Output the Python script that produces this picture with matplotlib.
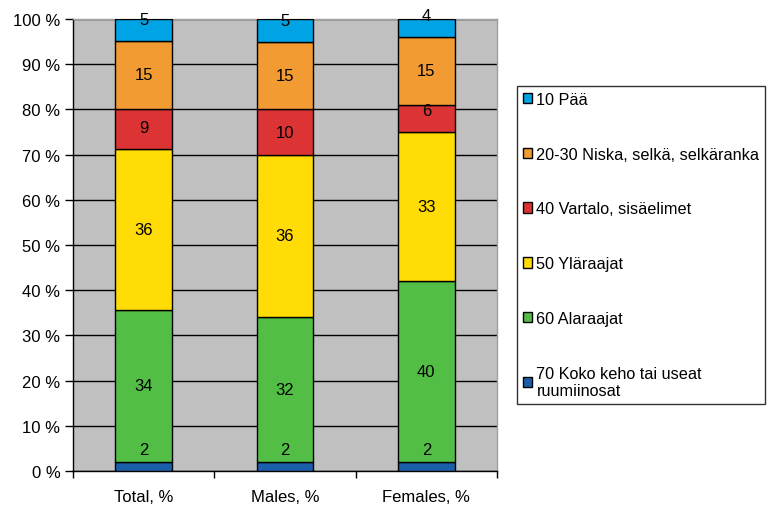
import matplotlib
matplotlib.use("Agg")
import matplotlib.pyplot as plt
import numpy as np
from matplotlib.ticker import FuncFormatter, MultipleLocator

plt.rcParams['font.family'] = ['Liberation Sans', 'DejaVu Sans']

categories = ["Total, %", "Males, %", "Females, %"]

# series listed bottom-to-top of each stack
series_names = [
    "70 Koko keho tai useat\nruumiinosat",
    "60 Alaraajat",
    "50 Yläraajat",
    "40 Vartalo, sisäelimet",
    "20-30 Niska, selkä, selkäranka",
    "10 Pää",
]
koko_keho = [2, 2, 2]
alaraajat = [34, 32, 40]
ylaraajat = [36, 36, 33]
vartalo = [9, 10, 6]
niska_selka = [15, 15, 15]
paa = [5, 5, 4]

series_values = [koko_keho, alaraajat, ylaraajat, vartalo, niska_selka, paa]
series_colors = ["#1B5FAA", "#52BE46", "#FFDC05", "#DC3434", "#F29B33", "#00A3E3"]

FS = 12
W, H, DPI = 769, 506, 100
fig = plt.figure(figsize=(W / DPI, H / DPI), dpi=DPI)
ax = fig.add_axes([73 / W, 1 - 472 / H, (497 - 73) / W, (472 - 20) / H])
ax.set_facecolor("#C0C0C0")

vals = np.array(series_values, dtype=float)
totals = vals.sum(axis=0)
shares = vals / totals * 100.0

x = np.arange(len(categories))
bar_w = 0.4
bottom = np.zeros(len(categories))
handles = []
px_per_unit = (472 - 20) / 100.0
for name, raw, share, col in zip(series_names, vals, shares, series_colors):
    b = ax.bar(x, share, bar_w, bottom=bottom, color=col, edgecolor="black",
               linewidth=1.0, label=name, zorder=3)
    handles.append(b)
    for xi, v, s, b0 in zip(x, raw, share, bottom):
        h_px = s * px_per_unit
        # thin segments get their label nudged upward
        lift_px = max(0.0, 21.5 - 0.5 * h_px)
        ax.annotate(f"{v:g}", (xi, b0 + s / 2), xytext=(0, lift_px * 72 / DPI),
                    textcoords="offset points", ha="center", va="center",
                    fontsize=FS, color="black", zorder=5)
    bottom = bottom + share

ax.set_xlim(-0.5, len(categories) - 0.5)
ax.set_ylim(0, 100)
ax.yaxis.set_major_locator(MultipleLocator(10))
ax.yaxis.set_major_formatter(FuncFormatter(lambda v, p: f"{v:.0f} %"))
ax.grid(axis="y", color="black", linewidth=1.0, zorder=1)
ax.set_axisbelow(True)

ax.set_xticks(x)
ax.set_xticklabels(categories, fontsize=FS)
ax.set_xticks(np.arange(-0.5, len(categories)), minor=True)
ax.tick_params(axis="x", which="major", length=0, pad=13)
ax.tick_params(axis="x", which="minor", length=5, width=1, direction="out", color="black")
ax.tick_params(axis="y", length=6, width=1, direction="out", labelsize=FS, pad=3)

for side in ("top", "right"):
    ax.spines[side].set_color("#A0A0A0")
    ax.spines[side].set_linewidth(1.0)
for side in ("left", "bottom"):
    ax.spines[side].set_color("black")
    ax.spines[side].set_linewidth(1.0)

leg = fig.legend(handles[::-1], series_names[::-1], loc="upper left",
                 bbox_to_anchor=(517 / W, 1 - 87 / H), fontsize=11.7,
                 frameon=True, fancybox=False, borderpad=0.35,
                 labelspacing=2.45, handlelength=0.6, handleheight=0.6,
                 handletextpad=0.25, borderaxespad=0)
leg.get_frame().set_edgecolor("black")
leg.get_frame().set_linewidth(1.0)

fig.savefig("out.png", dpi=DPI)
